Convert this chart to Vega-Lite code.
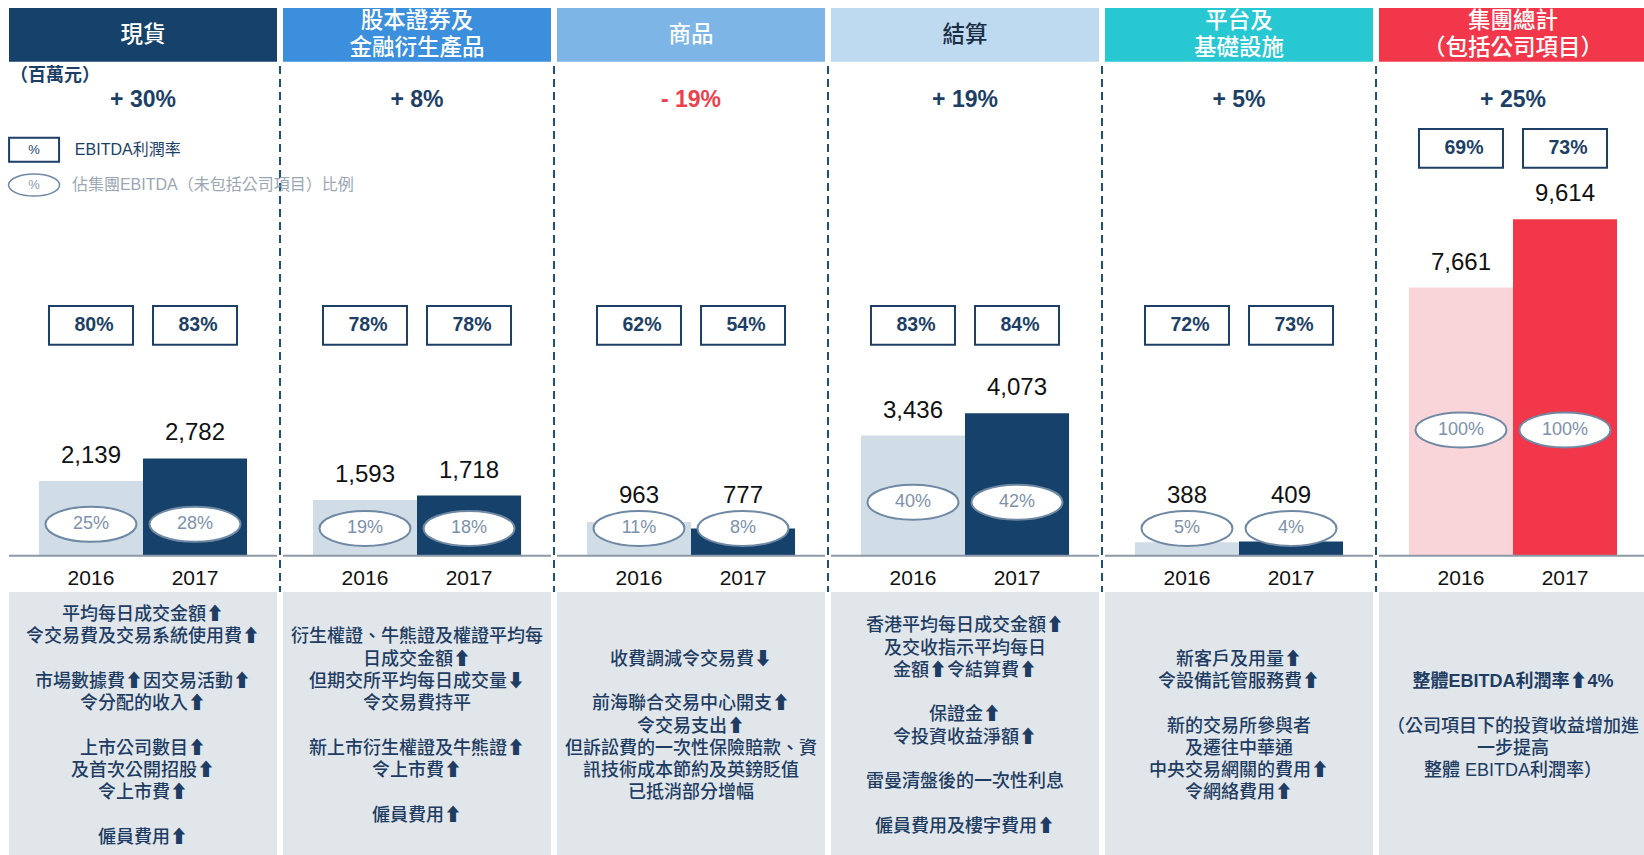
{
  "$schema": "https://vega.github.io/schema/vega-lite/v6.json",
  "padding": {"left": 5, "top": 8, "right": 0, "bottom": 0},
  "background": "white",
  "config": {"view": {"stroke": null}, "font": "Liberation Sans, Noto Sans CJK TC", "axis": {"disable": true}},
  "data": {"values": [
    {"kind": "panel", "seg": "現貨", "title": "現貨", "change": 30, "note": "平均每日成交金額⬆\n令交易費及交易系統使用費⬆\n\u2800\n市場數據費⬆因交易活動⬆\n令分配的收入⬆\n\u2800\n上市公司數目⬆\n及首次公開招股⬆\n令上市費⬆\n\u2800\n僱員費用⬆", "noteBold": ""},
    {"kind": "panel", "seg": "股本證券及金融衍生產品", "title": "股本證券及\n金融衍生產品", "change": 8, "note": "衍生權證、牛熊證及權證平均每\n日成交金額⬆\n但期交所平均每日成交量⬇\n令交易費持平\n\u2800\n新上市衍生權證及牛熊證⬆\n令上市費⬆\n\u2800\n僱員費用⬆", "noteBold": ""},
    {"kind": "panel", "seg": "商品", "title": "商品", "change": -19, "note": "收費調減令交易費⬇\n\u2800\n前海聯合交易中心開支⬆\n令交易支出⬆\n但訴訟費的一次性保險賠款、資\n訊技術成本節約及英鎊貶值\n已抵消部分增幅", "noteBold": ""},
    {"kind": "panel", "seg": "結算", "title": "結算", "change": 19, "note": "香港平均每日成交金額⬆\n及交收指示平均每日\n金額⬆令結算費⬆\n\u2800\n保證金⬆\n令投資收益淨額⬆\n\u2800\n雷曼清盤後的一次性利息\n\u2800\n僱員費用及樓宇費用⬆", "noteBold": ""},
    {"kind": "panel", "seg": "平台及基礎設施", "title": "平台及\n基礎設施", "change": 5, "note": "新客戶及用量⬆\n令設備託管服務費⬆\n\u2800\n新的交易所參與者\n及遷往中華通\n中央交易網關的費用⬆\n令網絡費用⬆", "noteBold": ""},
    {"kind": "panel", "seg": "集團總計", "title": "集團總計\n（包括公司項目）", "change": 25, "note": "（公司項目下的投資收益增加進\n一步提高\n整體 EBITDA利潤率）", "noteBold": "整體EBITDA利潤率⬆4%"},
    {"kind": "bar", "seg": "現貨", "year": "2016", "rev": 2139, "margin": 0.80, "share": 0.25},
    {"kind": "bar", "seg": "現貨", "year": "2017", "rev": 2782, "margin": 0.83, "share": 0.28},
    {"kind": "bar", "seg": "股本證券及金融衍生產品", "year": "2016", "rev": 1593, "margin": 0.78, "share": 0.19},
    {"kind": "bar", "seg": "股本證券及金融衍生產品", "year": "2017", "rev": 1718, "margin": 0.78, "share": 0.18},
    {"kind": "bar", "seg": "商品", "year": "2016", "rev": 963, "margin": 0.62, "share": 0.11},
    {"kind": "bar", "seg": "商品", "year": "2017", "rev": 777, "margin": 0.54, "share": 0.08},
    {"kind": "bar", "seg": "結算", "year": "2016", "rev": 3436, "margin": 0.83, "share": 0.40},
    {"kind": "bar", "seg": "結算", "year": "2017", "rev": 4073, "margin": 0.84, "share": 0.42},
    {"kind": "bar", "seg": "平台及基礎設施", "year": "2016", "rev": 388, "margin": 0.72, "share": 0.05},
    {"kind": "bar", "seg": "平台及基礎設施", "year": "2017", "rev": 409, "margin": 0.73, "share": 0.04},
    {"kind": "bar", "seg": "集團總計", "year": "2016", "rev": 7661, "margin": 0.69, "share": 1.00},
    {"kind": "bar", "seg": "集團總計", "year": "2017", "rev": 9614, "margin": 0.73, "share": 1.00}
  ]},
  "transform": [
    {"joinaggregate": [{"op": "min", "field": "rev", "as": "minRev"}], "groupby": ["seg"]},
    {"calculate": "max(780, 0.488 * datum.minRev - 146)", "as": "ellY"},
    {"calculate": "max(datum.rev + 714, datum.ellY + 920)", "as": "labY"},
    {"calculate": "datum.seg === '集團總計' ? 11640 : 6583", "as": "boxY"},
    {"calculate": "(datum.seg === '集團總計' ? 'G' : 'S') + datum.year", "as": "barKey"},
    {"calculate": "(datum.change >= 0 ? '+ ' : '- ') + abs(datum.change) + '%'", "as": "changeLabel"},
    {"calculate": "datum.kind === 'panel' ? 14883 + (length(split(datum.title, '\\n')) - 1) * 390 : 0", "as": "titleY"},
    {"calculate": "datum.kind === 'panel' ? (datum.noteBold !== '' ? length(split(datum.noteBold, '\\n')) + 1 : 0) : 0", "as": "boldLines"},
    {"calculate": "datum.kind === 'panel' ? -4880 + (length(split(datum.note, '\\n')) + datum.boldLines - 1) * 318.5 : 0", "as": "noteTopY"},
    {"calculate": "datum.noteTopY - datum.boldLines * 637", "as": "noteY"}
  ],
  "facet": {"column": {"field": "seg", "title": null, "sort": ["現貨", "股本證券及金融衍生產品", "商品", "結算", "平台及基礎設施", "集團總計"], "header": {"labels": false, "title": null, "labelPadding": 0, "titlePadding": 0}}},
  "spacing": 6,
  "bounds": "flush",
  "spec": {
    "width": 268,
    "height": 847,
    "layer": [
      {
        "transform": [{"filter": "datum.kind === 'panel'"}],
        "mark": {"type": "rect"},
        "encoding": {
          "y": {"datum": 15650, "type": "quantitative", "scale": {"domain": [-8550, 15650], "nice": false, "zero": false}, "axis": null},
          "y2": {"datum": 14114},
          "fill": {"field": "seg", "type": "nominal", "legend": null,
            "scale": {"domain": ["現貨", "股本證券及金融衍生產品", "商品", "結算", "平台及基礎設施", "集團總計"],
                      "range": ["#15416a", "#3b8fdc", "#7db5e7", "#bedaf1", "#28c8d3", "#f2374b"]}}
        }
      },
      {
        "transform": [{"filter": "datum.kind === 'panel'"}],
        "mark": {"type": "text", "lineBreak": "\n", "fontSize": 22.5, "fontWeight": 500, "font": "Noto Sans CJK TC", "lineHeight": 27.3, "baseline": "middle", "align": "center"},
        "encoding": {
          "y": {"field": "titleY", "type": "quantitative", "axis": null},
          "text": {"field": "title", "type": "nominal"},
          "color": {"condition": {"test": "datum.seg === '結算'", "value": "#1b2e45"}, "value": "white"}
        }
      },
      {
        "transform": [{"filter": "datum.kind === 'panel'"}],
        "mark": {"type": "text", "fontSize": 23, "fontWeight": "bold", "baseline": "middle", "align": "center"},
        "encoding": {
          "y": {"datum": 13020, "type": "quantitative", "axis": null},
          "text": {"field": "changeLabel", "type": "nominal"},
          "color": {"condition": {"test": "datum.change < 0", "value": "#ee3f4f"}, "value": "#1d3f66"}
        }
      },
      {
        "transform": [{"filter": "datum.kind === 'panel'"}],
        "mark": {"type": "rect", "color": "#e1e6eb"},
        "encoding": {"y": {"datum": -1037, "type": "quantitative", "axis": null}, "y2": {"datum": -8550}}
      },
      {
        "transform": [{"filter": "datum.kind === 'panel'"}],
        "mark": {"type": "text", "lineBreak": "\n", "fontSize": 18, "fontWeight": 500, "lineHeight": 22.3, "baseline": "middle", "align": "center", "color": "#1f3d63"},
        "encoding": {"y": {"field": "noteY", "type": "quantitative", "axis": null}, "text": {"field": "note", "type": "nominal"}}
      },
      {
        "transform": [{"filter": "datum.kind === 'panel' && datum.noteBold !== ''"}],
        "mark": {"type": "text", "lineBreak": "\n", "fontSize": 18, "fontWeight": "bold", "lineHeight": 22.3, "baseline": "middle", "align": "center", "color": "#1f3d63"},
        "encoding": {"y": {"field": "noteTopY", "type": "quantitative", "axis": null}, "text": {"field": "noteBold", "type": "nominal"}}
      },
      {
        "transform": [{"filter": "datum.kind === 'panel' && datum.seg !== '集團總計'"}],
        "mark": {"type": "rule", "color": "#1f4e79", "strokeWidth": 2, "strokeDash": [8, 5]},
        "encoding": {
          "x": {"datum": "2017", "bandPosition": 1.317, "type": "nominal", "axis": null},
          "y": {"datum": 13991, "type": "quantitative", "axis": null},
          "y2": {"datum": -1037}
        }
      },
      {
        "transform": [{"filter": "datum.kind === 'bar'"}],
        "mark": {"type": "bar"},
        "encoding": {
          "x": {"field": "year", "type": "nominal", "axis": null, "scale": {"domain": ["2016", "2017"], "paddingInner": 0, "paddingOuter": 0.288}},
          "y": {"field": "rev", "type": "quantitative", "scale": {"domain": [-8550, 15650], "nice": false, "zero": false}, "axis": null},
          "color": {"field": "barKey", "type": "nominal", "legend": null,
            "scale": {"domain": ["S2016", "S2017", "G2016", "G2017"], "range": ["#d0dce6", "#15416a", "#f9d5da", "#f2374b"]}}
        }
      },
      {
        "transform": [{"filter": "datum.kind === 'panel'"}],
        "mark": {"type": "rule", "color": "#8d99a6", "strokeWidth": 2},
        "encoding": {"y": {"datum": 0, "type": "quantitative", "axis": null}}
      },
      {
        "transform": [{"filter": "datum.kind === 'bar'"}],
        "mark": {"type": "text", "fontSize": 24, "baseline": "middle", "color": "#111111"},
        "encoding": {
          "x": {"field": "year", "type": "nominal", "axis": null},
          "y": {"field": "labY", "type": "quantitative", "axis": null},
          "text": {"field": "rev", "type": "quantitative", "format": ","}
        }
      },
      {
        "transform": [{"filter": "datum.kind === 'bar'"}],
        "mark": {"type": "point", "filled": true, "fill": "white", "stroke": "#6f88a4", "strokeWidth": 2, "opacity": 1, "size": 8281,
          "shape": "M-1,0C-1,-0.213 -0.552,-0.385 0,-0.385C0.552,-0.385 1,-0.213 1,0C1,0.213 0.552,0.385 0,0.385C-0.552,0.385 -1,0.213 -1,0Z"},
        "encoding": {
          "x": {"field": "year", "type": "nominal", "axis": null},
          "y": {"field": "ellY", "type": "quantitative", "axis": null}
        }
      },
      {
        "transform": [{"filter": "datum.kind === 'bar'"}],
        "mark": {"type": "text", "fontSize": 18, "baseline": "middle", "color": "#7d91aa"},
        "encoding": {
          "x": {"field": "year", "type": "nominal", "axis": null},
          "y": {"field": "ellY", "type": "quantitative", "axis": null},
          "text": {"field": "share", "type": "quantitative", "format": ".0%"}
        }
      },
      {
        "transform": [{"filter": "datum.kind === 'bar'"}],
        "mark": {"type": "point", "filled": true, "fill": "white", "stroke": "#1d3f66", "strokeWidth": 2, "opacity": 1, "size": 7056,
          "shape": "M-1,-0.46H1V0.46H-1Z"},
        "encoding": {
          "x": {"field": "year", "type": "nominal", "axis": null},
          "y": {"field": "boxY", "type": "quantitative", "axis": null}
        }
      },
      {
        "transform": [{"filter": "datum.kind === 'bar'"}],
        "mark": {"type": "text", "fontSize": 19.5, "fontWeight": "bold", "dx": 3, "baseline": "middle", "color": "#1d3f66"},
        "encoding": {
          "x": {"field": "year", "type": "nominal", "axis": null},
          "y": {"field": "boxY", "type": "quantitative", "axis": null},
          "text": {"field": "margin", "type": "quantitative", "format": ".0%"}
        }
      },
      {
        "transform": [{"filter": "datum.kind === 'bar'"}],
        "mark": {"type": "text", "fontSize": 21, "baseline": "middle", "color": "#111111"},
        "encoding": {
          "x": {"field": "year", "type": "nominal", "axis": null},
          "y": {"datum": -660, "type": "quantitative", "axis": null},
          "text": {"field": "year", "type": "nominal"}
        }
      },
      {
        "transform": [{"filter": "datum.kind === 'panel' && datum.seg === '現貨'"}],
        "mark": {"type": "text", "fontSize": 18, "fontWeight": "bold", "align": "left", "baseline": "middle", "color": "#1d3f66"},
        "encoding": {
          "x": {"datum": "2016", "bandPosition": -0.279, "type": "nominal", "axis": null},
          "y": {"datum": 13706, "type": "quantitative", "axis": null},
          "text": {"value": "（百萬元）"}
        }
      },
      {
        "transform": [{"filter": "datum.kind === 'panel' && datum.seg === '現貨'"}],
        "mark": {"type": "point", "filled": true, "fill": "white", "stroke": "#1d3f66", "strokeWidth": 2, "opacity": 1, "size": 2500,
          "shape": "M-1,-0.48H1V0.48H-1Z"},
        "encoding": {
          "x": {"datum": "2016", "bandPosition": -0.047, "type": "nominal", "axis": null},
          "y": {"datum": 11600, "type": "quantitative", "axis": null}
        }
      },
      {
        "transform": [{"filter": "datum.kind === 'panel' && datum.seg === '現貨'"}],
        "mark": {"type": "text", "fontSize": 13, "baseline": "middle", "align": "center", "color": "#1d3f66"},
        "encoding": {
          "x": {"datum": "2016", "bandPosition": -0.047, "type": "nominal", "axis": null},
          "y": {"datum": 11600, "type": "quantitative", "axis": null},
          "text": {"value": "%"}
        }
      },
      {
        "transform": [{"filter": "datum.kind === 'panel' && datum.seg === '現貨'"}],
        "mark": {"type": "text", "fontSize": 16, "baseline": "middle", "align": "left", "color": "#1d3f66"},
        "encoding": {
          "x": {"datum": "2016", "bandPosition": 0.345, "type": "nominal", "axis": null},
          "y": {"datum": 11600, "type": "quantitative", "axis": null},
          "text": {"value": "EBITDA利潤率"}
        }
      },
      {
        "transform": [{"filter": "datum.kind === 'panel' && datum.seg === '現貨'"}],
        "mark": {"type": "point", "filled": true, "fill": "white", "stroke": "#6f88a4", "strokeWidth": 1.5, "opacity": 1, "size": 2601,
          "shape": "M-1,0C-1,-0.2375 -0.552,-0.43 0,-0.43C0.552,-0.43 1,-0.2375 1,0C1,0.2375 0.552,0.43 0,0.43C-0.552,0.43 -1,0.2375 -1,0Z"},
        "encoding": {
          "x": {"datum": "2016", "bandPosition": -0.047, "type": "nominal", "axis": null},
          "y": {"datum": 10591, "type": "quantitative", "axis": null}
        }
      },
      {
        "transform": [{"filter": "datum.kind === 'panel' && datum.seg === '現貨'"}],
        "mark": {"type": "text", "fontSize": 13, "baseline": "middle", "align": "center", "color": "#8b9bb0"},
        "encoding": {
          "x": {"datum": "2016", "bandPosition": -0.047, "type": "nominal", "axis": null},
          "y": {"datum": 10591, "type": "quantitative", "axis": null},
          "text": {"value": "%"}
        }
      },
      {
        "transform": [{"filter": "datum.kind === 'panel' && datum.seg === '現貨'"}],
        "mark": {"type": "text", "fontSize": 16, "baseline": "middle", "align": "left", "color": "#9aa6b2"},
        "encoding": {
          "x": {"datum": "2016", "bandPosition": 0.317, "type": "nominal", "axis": null},
          "y": {"datum": 10591, "type": "quantitative", "axis": null},
          "text": {"value": "佔集團EBITDA（未包括公司項目）比例"}
        }
      }
    ]
  }
}
